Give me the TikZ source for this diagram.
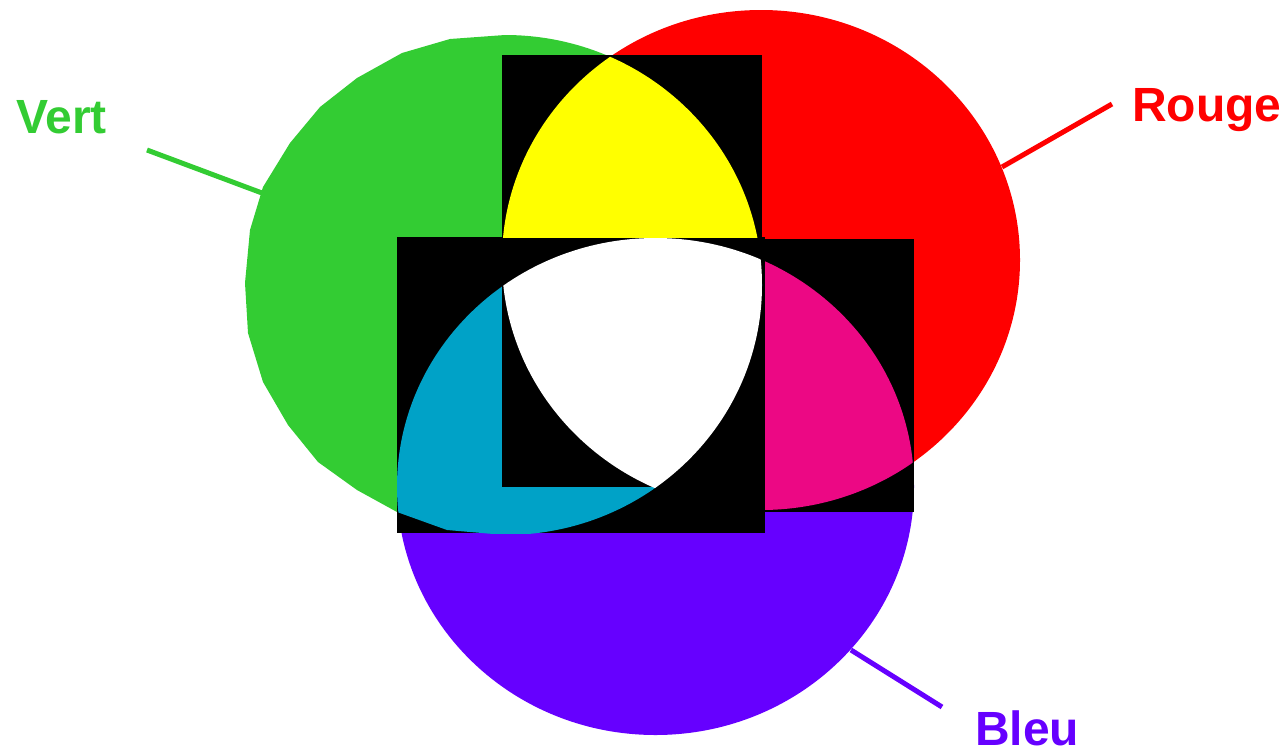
\documentclass[tikz,border=0pt]{standalone}
\usepackage{fontspec}
\setmainfont{Liberation Sans}

\definecolor{vert}{HTML}{33CC33}
\definecolor{rouge}{HTML}{FF0000}
\definecolor{bleu}{HTML}{6600FF}
\definecolor{jaune}{HTML}{FFFF00}
\definecolor{cyanmix}{HTML}{00A2C7}
\definecolor{magentamix}{HTML}{EC0884}

% outline of the green disc: smooth on the right, facets on the left
\def\greendisc{(505,35) arc [start angle=-90, end angle=90, x radius=257, y radius=250]
  -- (447,530) -- (397,512) -- (357,490) -- (318,462) -- (288,425) -- (263,382)
  -- (248,333) -- (245,283) -- (250,230) -- (263,187) -- (290,143) -- (320,107)
  -- (357,78) -- (402,53) -- (450,39) -- cycle}
\def\reddisc{(761,260) ellipse [x radius=259, y radius=250]}
\def\bluedisc{(655.5,486.5) ellipse [x radius=258.5, y radius=248.5]}

\begin{document}
\begin{tikzpicture}[
  x=1pt, y=-1pt,
  tag/.style={inner sep=0pt, anchor=base west, font=\bfseries\fontsize{48}{56}\selectfont},
  leader/.style={line width=5pt}
]
\useasboundingbox (0,0) rectangle (1285,753);

% the three discs
\fill[vert] \greendisc;
\fill[rouge] \reddisc;
\fill[bleu] \bluedisc;

% red + blue
\begin{scope}
  \clip (502,239) rectangle (914,512);
  \fill[black] (502,239) rectangle (914,512);
  \clip \reddisc;
  \fill[magentamix] \bluedisc;
\end{scope}
% green + blue
\begin{scope}
  \clip (397,237) rectangle (765,533);
  \fill[black] (397,237) rectangle (765,533);
  \clip \greendisc;
  \fill[cyanmix] \bluedisc;
\end{scope}
% green + red
\begin{scope}
  \clip (502,55) rectangle (762,238);
  \fill[black] (502,55) rectangle (762,238);
  \clip \greendisc;
  \fill[jaune] \reddisc;
\end{scope}
% all three
\begin{scope}
  \clip (502,238) rectangle (762,487);
  \fill[black] (502,238) rectangle (762,487);
  \clip \greendisc;
  \clip \reddisc;
  \fill[white] \bluedisc;
\end{scope}

% labels
\node[tag, text=vert] (vert) at (16,133) {Vert};
\node[tag, text=rouge] (rouge) at (1132,121) {Rouge};
\node[tag, text=bleu] (bleu) at (975,745) {Bleu};

\coordinate (vert-a) at (147,150);
\coordinate (vert-b) at (262,193);
\coordinate (rouge-a) at (1112,104);
\coordinate (rouge-b) at (1002,167);
\coordinate (bleu-a) at (851,650);
\coordinate (bleu-b) at (942,707);
\draw[leader, vert] (vert-a) -- (vert-b);
\draw[leader, rouge] (rouge-a) -- (rouge-b);
\draw[leader, bleu] (bleu-a) -- (bleu-b);
\end{tikzpicture}
\end{document}
